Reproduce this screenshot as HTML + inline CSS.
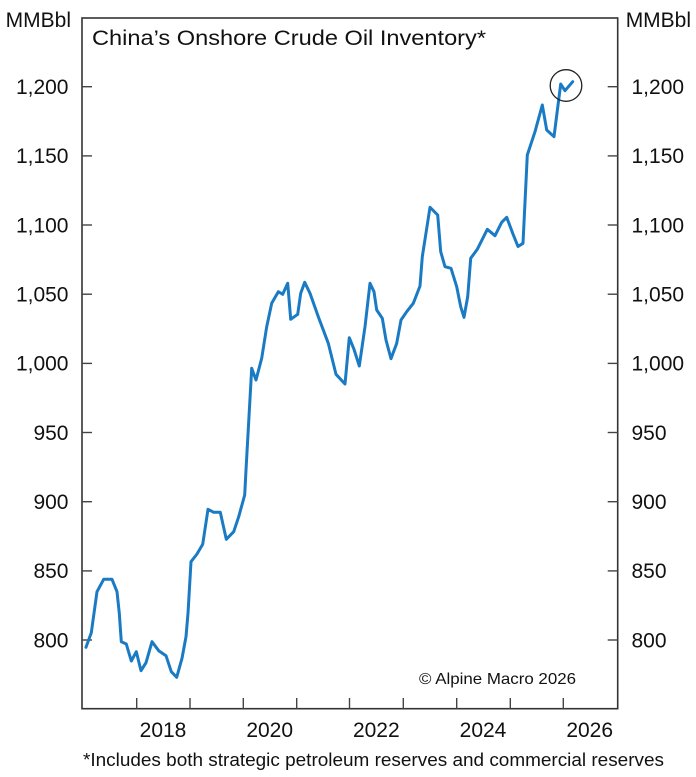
<!DOCTYPE html>
<html>
<head>
<meta charset="utf-8">
<style>
html,body{margin:0;padding:0;background:#fff;}
svg{display:block;}
text{font-family:"Liberation Sans",Arial,sans-serif;fill:#111;}
</style>
</head>
<body>
<svg width="696" height="777" viewBox="0 0 696 777" xmlns="http://www.w3.org/2000/svg">
<rect x="0" y="0" width="696" height="777" fill="#fff"/>
<!-- frame -->
<rect x="82" y="18" width="535.7" height="690.7" fill="none" stroke="#333" stroke-width="1.6"/>
<!-- y ticks -->
<g stroke="#444" stroke-width="1.4">
<line x1="82" y1="86.7" x2="92" y2="86.7"/><line x1="607.7" y1="86.7" x2="617.7" y2="86.7"/>
<line x1="82" y1="155.9" x2="92" y2="155.9"/><line x1="607.7" y1="155.9" x2="617.7" y2="155.9"/>
<line x1="82" y1="225.0" x2="92" y2="225.0"/><line x1="607.7" y1="225.0" x2="617.7" y2="225.0"/>
<line x1="82" y1="294.2" x2="92" y2="294.2"/><line x1="607.7" y1="294.2" x2="617.7" y2="294.2"/>
<line x1="82" y1="363.4" x2="92" y2="363.4"/><line x1="607.7" y1="363.4" x2="617.7" y2="363.4"/>
<line x1="82" y1="432.5" x2="92" y2="432.5"/><line x1="607.7" y1="432.5" x2="617.7" y2="432.5"/>
<line x1="82" y1="501.7" x2="92" y2="501.7"/><line x1="607.7" y1="501.7" x2="617.7" y2="501.7"/>
<line x1="82" y1="570.9" x2="92" y2="570.9"/><line x1="607.7" y1="570.9" x2="617.7" y2="570.9"/>
<line x1="82" y1="640.0" x2="92" y2="640.0"/><line x1="607.7" y1="640.0" x2="617.7" y2="640.0"/>
</g>
<!-- x ticks -->
<g stroke="#444" stroke-width="1.4">
<line x1="136.7" y1="708.7" x2="136.7" y2="698"/>
<line x1="190" y1="708.7" x2="190" y2="698"/>
<line x1="243.3" y1="708.7" x2="243.3" y2="698"/>
<line x1="296.7" y1="708.7" x2="296.7" y2="698"/>
<line x1="349.5" y1="708.7" x2="349.5" y2="698"/>
<line x1="403.3" y1="708.7" x2="403.3" y2="698"/>
<line x1="456.7" y1="708.7" x2="456.7" y2="698"/>
<line x1="510.3" y1="708.7" x2="510.3" y2="698"/>
<line x1="563.3" y1="708.7" x2="563.3" y2="698"/>
</g>
<!-- y labels left -->
<g font-size="21" text-anchor="end">
<text x="71" y="27">MMBbl</text>
<text x="68.5" y="94">1,200</text>
<text x="68.5" y="163.2">1,150</text>
<text x="68.5" y="232.3">1,100</text>
<text x="68.5" y="301.5">1,050</text>
<text x="68.5" y="370.7">1,000</text>
<text x="68.5" y="439.8">950</text>
<text x="68.5" y="509">900</text>
<text x="68.5" y="578.2">850</text>
<text x="68.5" y="647.3">800</text>
</g>
<!-- y labels right -->
<g font-size="21" text-anchor="start">
<text x="625.7" y="27">MMBbl</text>
<text x="631.5" y="94">1,200</text>
<text x="631.5" y="163.2">1,150</text>
<text x="631.5" y="232.3">1,100</text>
<text x="631.5" y="301.5">1,050</text>
<text x="631.5" y="370.7">1,000</text>
<text x="631.5" y="439.8">950</text>
<text x="631.5" y="509">900</text>
<text x="631.5" y="578.2">850</text>
<text x="631.5" y="647.3">800</text>
</g>
<!-- x labels -->
<g font-size="21" text-anchor="middle">
<text x="163" y="737">2018</text>
<text x="269.7" y="737">2020</text>
<text x="376.3" y="737">2022</text>
<text x="483" y="737">2024</text>
<text x="589.7" y="737">2026</text>
</g>
<!-- title -->
<text x="92" y="45" font-size="21" textLength="394" lengthAdjust="spacingAndGlyphs">China’s Onshore Crude Oil Inventory*</text>
<!-- copyright -->
<text x="419" y="684" font-size="16" textLength="157" lengthAdjust="spacingAndGlyphs">© Alpine Macro 2026</text>
<!-- footnote -->
<text x="83" y="766" font-size="18" textLength="581" lengthAdjust="spacingAndGlyphs">*Includes both strategic petroleum reserves and commercial reserves</text>
<!-- data line -->
<polyline fill="none" stroke="#1a7bc4" stroke-width="3" stroke-linejoin="round" stroke-linecap="round" points="
86,647.3 91.3,632.7 97,591.7 103.7,579.3 112,579.3 117,591.7 119.3,613.3 121.3,641.7 126.3,644 131.3,661 136.3,651.7 141,670.7 146,662.7 152,641.7 158.7,650.7 166,655.7 171.3,671.7 176.7,677.3 182,658.3 186,636.7 188,613.3 191,561.7 197,554 202.7,544.3 208,509.3 213.7,512.3 220.3,512.3 226.3,539.3 233.7,531.7 238.7,516.7 244.7,495 246,470
251.7,368.3 256,380 261.7,358.3 266.7,326.7 271.7,303.3 278.3,291.7 282.7,294.3 287.7,283.3 290.7,319.3 297.7,314.3 300.7,293.3 304.7,282.3 310,293.3 318.3,316.7 328.3,343.3 336,374.3 345,384 349.3,337.7 354,349.3 359.3,366 365,326.7 370,283.3 374,291.7 376.7,310 382.3,318.3 386,340 391,358.7 396.7,343.3 401,320 406.7,311.7 413.3,303.3 420,286 422.3,256.7 430,207.3 437.7,215 440.7,251.7 445,266.7 451,268.3 456.7,286.7 460.7,306.7 464,317.3 467.7,296.7 470.7,258.3 477.3,249.3 487.3,229.3 495,235.7 501.7,222.3 506.7,217.3 512.7,233.3 518,246.5 523,243.3 527.3,155 535,131.7 542.3,105 546.7,130 554,136.7 560.7,84 565,90.7 572.7,81.7"/>
<!-- circle -->
<circle cx="566" cy="85.5" r="15.8" fill="none" stroke="#222" stroke-width="1.3"/>
</svg>
</body>
</html>
